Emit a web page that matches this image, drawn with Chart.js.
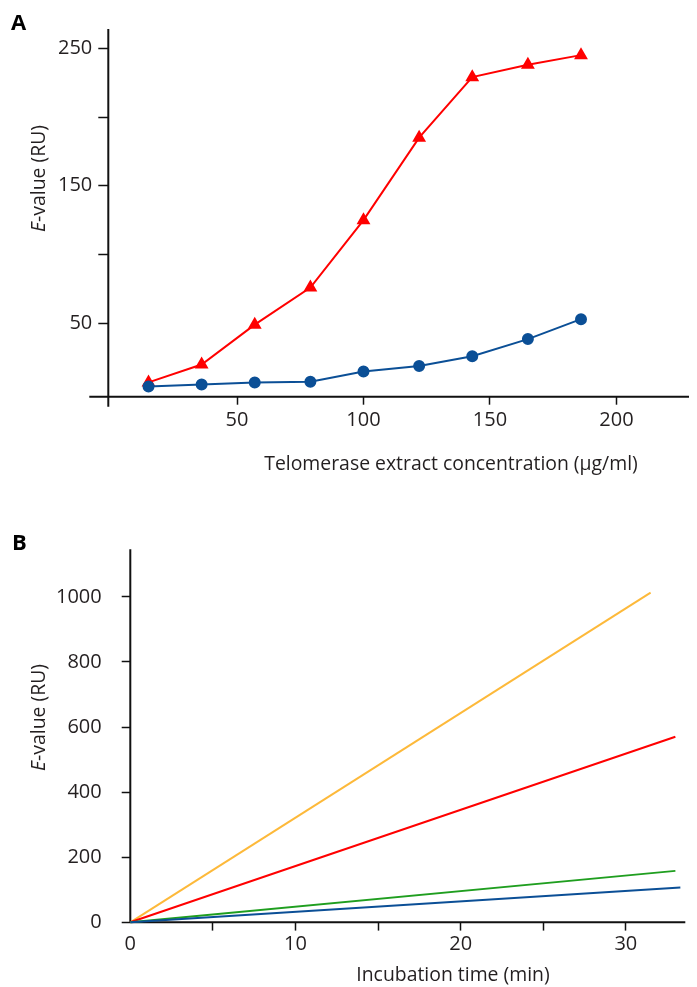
<!DOCTYPE html>
<html>
<head>
<meta charset="utf-8">
<script src="https://cdn.jsdelivr.net/npm/chart.js@4.4.1/dist/chart.umd.min.js"></script>
<style>
  html, body { margin: 0; padding: 0; background: #fff; }
  #wrap { position: relative; width: 697px; height: 987px; }
  canvas { position: absolute; left: 0; }
  #chartA { top: 0; }
  #chartB { top: 500px; }
</style>
</head>
<body>
<div id="wrap">
  <canvas id="chartA" width="697" height="500"></canvas>
  <canvas id="chartB" width="697" height="487"></canvas>
</div>
<script>
// panel A - E-value vs telomerase extract concentration
const concA = [15, 36, 57, 79, 100, 122, 143, 165, 186];
const blueA = [4, 5.5, 7, 7.5, 15, 19, 26, 38.5, 53];
const redA = [7, 20, 49, 76, 125, 185, 229, 238, 245];
const xTicksA = [50, 100, 150, 200];
const yTicksA = [50, 100, 150, 200, 250];
const yLabelsA = [50, 150, 250];

// panel B - E-value vs incubation time (start and end of each line)
const timeOrange = [0, 31.5], evalOrange = [0, 1013];
const timeRed = [0, 33.0], evalRed = [0, 570];
const timeGreen = [0, 33.0], evalGreen = [0, 158];
const timeBlue = [0, 33.3], evalBlue = [0, 107];
const xTicksB = [0, 5, 10, 15, 20, 25, 30];
const xLabelsB = [0, 10, 20, 30];
const yTicksB = [0, 200, 400, 600, 800, 1000];

const FONT = "'Open Sans', sans-serif";
const TEXT = '#231f20';
const AXIS = '#111';
Chart.defaults.font.family = FONT;
Chart.defaults.color = TEXT;

function pts(xs, ys) {
    return xs.map((x, i) => ({ x: x, y: ys[i] }));
}

// axis lines with overhang + panel letter + axis titles
const framePlugin = {
    id: 'frame',
    beforeDatasetsDraw(chart, args, opts) {
        const ctx = chart.ctx;
        const a = chart.chartArea;
        ctx.save();
        ctx.strokeStyle = AXIS;
        ctx.lineWidth = 2;
        ctx.beginPath();
        ctx.moveTo(a.left - opts.overLeft, a.bottom);
        ctx.lineTo(a.right, a.bottom);
        ctx.moveTo(a.left, a.top);
        ctx.lineTo(a.left, a.bottom + opts.overBottom);
        ctx.stroke();
        ctx.restore();
    },
    afterDraw(chart, args, opts) {
        const ctx = chart.ctx;
        ctx.save();
        ctx.fillStyle = '#000';
        ctx.font = 'bold 22px ' + FONT;
        ctx.textBaseline = 'alphabetic';
        ctx.textAlign = 'left';
        ctx.fillText(opts.letter, opts.letterX, opts.letterY);

        // x title
        ctx.fillStyle = TEXT;
        const f = '19.4px ' + FONT;
        ctx.font = f;
        ctx.textAlign = 'center';
        ctx.fillText(opts.xTitle, opts.xTitleX, opts.xTitleY);

        // y title, italic E
        ctx.font = 'italic ' + f;
        const wE = ctx.measureText('E').width;
        ctx.font = f;
        const wR = ctx.measureText('-value (RU)').width;
        ctx.translate(opts.yTitleX, opts.yTitleY);
        ctx.rotate(-Math.PI / 2);
        ctx.textAlign = 'left';
        ctx.textBaseline = 'middle';
        const start = -(wE + wR) / 2;
        ctx.font = 'italic ' + f;
        ctx.fillText('E', start, 0);
        ctx.font = f;
        ctx.fillText('-value (RU)', start + wE, 0);
        ctx.restore();
    }
};

function baseScale(ticks, labels, tickLen, pad, fixSize, isX) {
    return {
        type: 'linear',
        afterBuildTicks: s => { s.ticks = ticks.map(v => ({ value: v })); },
        afterFit: s => { if (isX) s.height = fixSize; else s.width = fixSize; },
        border: { display: false },
        grid: {
            drawOnChartArea: false,
            drawTicks: true,
            tickLength: tickLen,
            tickWidth: 1.5,
            tickColor: AXIS
        },
        ticks: {
            padding: pad,
            maxRotation: 0,
            autoSkip: false,
            color: TEXT,
            font: { size: 20 },
            callback: v => labels.includes(v) ? String(v) : ''
        }
    };
}

// ---- chart A
const xA = baseScale(xTicksA, xTicksA, 8, 4, 103.3, true);
xA.min = -0.9; xA.max = 228.7;
const yA = baseScale(yTicksA, yLabelsA, 10, 6, 108.3, false);
yA.min = -3.4; yA.max = 264;

new Chart(document.getElementById('chartA'), {
    type: 'line',
    data: {
        datasets: [
            {
                data: pts(concA, blueA),
                borderColor: '#0b4f96',
                backgroundColor: '#0b4f96',
                borderWidth: 2,
                pointStyle: 'circle',
                pointRadius: 5,
                tension: 0,
                clip: false
            },
            {
                data: pts(concA, redA),
                borderColor: '#ff0000',
                backgroundColor: '#ff0000',
                borderWidth: 2,
                pointStyle: 'triangle',
                pointRadius: 6,
                tension: 0,
                clip: false
            }
        ]
    },
    options: {
        responsive: false,
        animation: false,
        events: [],
        layout: { padding: { left: 0, top: 29, right: 7, bottom: 0 } },
        scales: { x: xA, y: yA },
        plugins: {
            legend: { display: false },
            tooltip: { enabled: false },
            frame: {
                overLeft: 19, overBottom: 10,
                letter: 'A', letterX: 11, letterY: 30,
                xTitle: 'Telomerase extract concentration (µg/ml)', xTitleX: 451, xTitleY: 470,
                yTitleX: 39, yTitleY: 178.5
            }
        }
    },
    plugins: [framePlugin]
});

// ---- chart B
const xB = baseScale(xTicksB, xLabelsB, 8.3, 2, 64.7, true);
xB.min = 0; xB.max = 33.6;
xB.grid.tickColor = c => (c.tick && c.tick.value === 0) ? 'rgba(0,0,0,0)' : AXIS;
const yB = baseScale(yTicksB, yTicksB, 8.6, 20, 130.3, false);
yB.min = 0; yB.max = 1146;

function lineB(xs, ys, color) {
    return {
        data: pts(xs, ys),
        borderColor: color,
        backgroundColor: color,
        borderWidth: 2,
        pointRadius: 0,
        tension: 0,
        clip: false
    };
}

new Chart(document.getElementById('chartB'), {
    type: 'line',
    data: {
        datasets: [
            lineB(timeBlue, evalBlue, '#0b4f96'),
            lineB(timeGreen, evalGreen, '#1f9e1f'),
            lineB(timeRed, evalRed, '#ff0000'),
            lineB(timeOrange, evalOrange, '#fdb93a')
        ]
    },
    options: {
        responsive: false,
        animation: false,
        events: [],
        layout: { padding: { left: 0, top: 49.3, right: 11.7, bottom: 0 } },
        scales: { x: xB, y: yB },
        plugins: {
            legend: { display: false },
            tooltip: { enabled: false },
            frame: {
                overLeft: 0, overBottom: 0,
                letter: 'B', letterX: 12, letterY: 49.5,
                xTitle: 'Incubation time (min)', xTitleX: 453, xTitleY: 481,
                yTitleX: 39.5, yTitleY: 217.5
            }
        }
    },
    plugins: [framePlugin]
});
</script>
</body>
</html>
